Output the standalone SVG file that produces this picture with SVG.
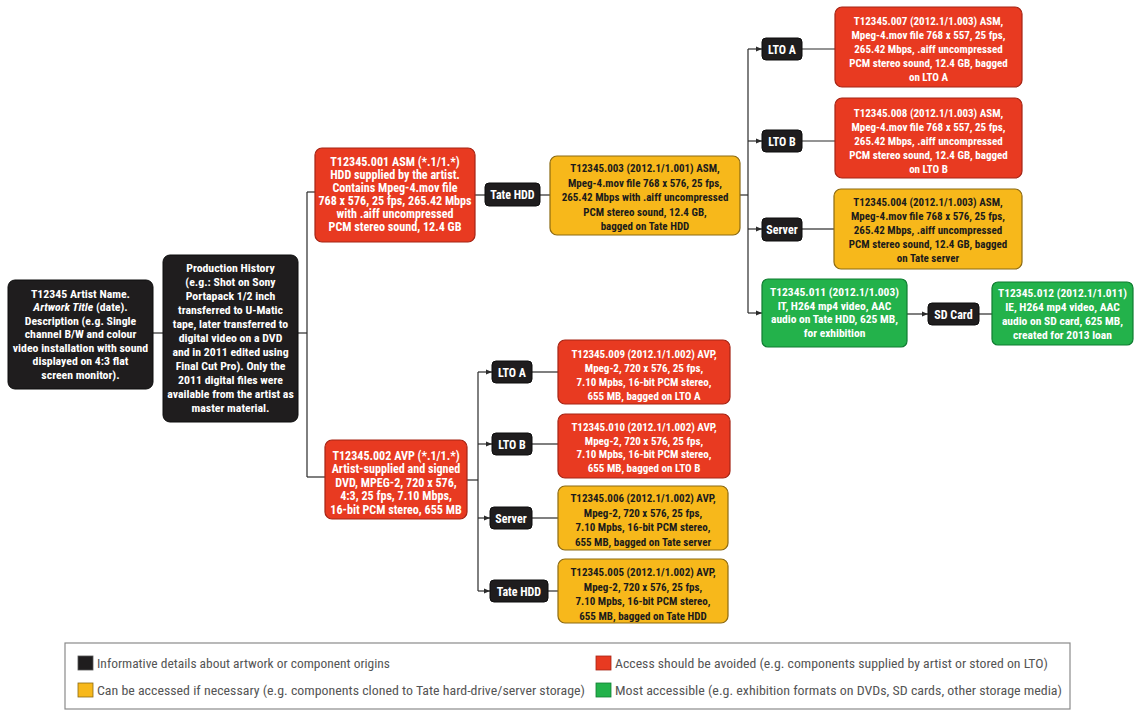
<svg xmlns="http://www.w3.org/2000/svg" width="1138" height="712" viewBox="0 0 1138 712">
<defs>
<marker id="arr" viewBox="0 0 6 6" refX="6" refY="3" markerWidth="6" markerHeight="6" orient="auto" markerUnits="userSpaceOnUse">
<path d="M0,0.5 L6,3 L0,5.5 Z" fill="#2b2b2b"/>
</marker>
<style>
text{font-family:"Liberation Sans Narrow","Roboto Condensed","DejaVu Sans Condensed","Liberation Sans",sans-serif;font-weight:bold;font-size:11px;text-anchor:middle}
.big text{font-size:11.8px}
.xbig text{font-size:12.1px}
.gr text{font-size:11.5px}
.lab text{font-size:12px}
.blk{fill:#1f1d1e;stroke:#0c0c0c;stroke-width:1}
.red{fill:#e83a21;stroke:#a52414;stroke-width:1.2}
.yel{fill:#f7b81b;stroke:#8c6a12;stroke-width:1.2}
.grn{fill:#23b24b;stroke:#0f7d31;stroke-width:1.2}
.w{fill:#ffffff}
.k{fill:#1b1b1b}
.con line{stroke:#2b2b2b;stroke-width:1.2;fill:none}
.lg{font-weight:normal;font-size:12.5px;fill:#555;text-anchor:start;font-family:"Liberation Sans Narrow","Roboto Condensed","Liberation Sans",sans-serif}
</style>
</defs>
<rect width="1138" height="712" fill="#ffffff"/>

<g id="connectors" class="con">
<line x1="153" y1="333" x2="163" y2="333"/>
<line x1="298" y1="333" x2="307" y2="333"/>
<line x1="307" y1="192" x2="307" y2="477"/>
<line x1="307" y1="192" x2="315" y2="192"/>
<line x1="307" y1="477" x2="325" y2="477"/>
<line x1="475" y1="195" x2="485" y2="195"/>
<line x1="540" y1="195" x2="550" y2="195"/>
<line x1="740" y1="195" x2="748" y2="195"/>
<line x1="748" y1="49" x2="748" y2="313"/>
<line x1="748" y1="49" x2="762" y2="49" marker-end="url(#arr)"/>
<line x1="748" y1="141" x2="762" y2="141" marker-end="url(#arr)"/>
<line x1="748" y1="229" x2="762" y2="229" marker-end="url(#arr)"/>
<line x1="748" y1="313" x2="762" y2="313" marker-end="url(#arr)"/>
<line x1="802" y1="49" x2="835" y2="49"/>
<line x1="802" y1="141" x2="835" y2="141"/>
<line x1="802" y1="229" x2="834" y2="229"/>
<line x1="907" y1="314" x2="928" y2="314" marker-end="url(#arr)"/>
<line x1="979" y1="314" x2="992" y2="314"/>
<line x1="467" y1="480" x2="478" y2="480"/>
<line x1="478" y1="372" x2="478" y2="591"/>
<line x1="478" y1="372" x2="492" y2="372" marker-end="url(#arr)"/>
<line x1="478" y1="444" x2="492" y2="444" marker-end="url(#arr)"/>
<line x1="478" y1="518" x2="490" y2="518" marker-end="url(#arr)"/>
<line x1="478" y1="591" x2="490" y2="591" marker-end="url(#arr)"/>
<line x1="532" y1="372" x2="558" y2="372"/>
<line x1="532" y1="444" x2="558" y2="444"/>
<line x1="532" y1="518" x2="558" y2="518"/>
<line x1="548" y1="591" x2="558" y2="591"/>
</g>

<g id="n-artist" class="big">
<rect class="blk" x="8" y="280" width="145" height="109" rx="7"/>
<text class="w" x="80.5" y="297.5">T12345 Artist Name.</text>
<text class="w" x="80.5" y="311"><tspan font-style="italic">Artwork Title</tspan> (date).</text>
<text class="w" x="80.5" y="324.5">Description (e.g. Single</text>
<text class="w" x="80.5" y="338">channel B/W and colour</text>
<text class="w" x="80.5" y="351.5">video installation with sound</text>
<text class="w" x="80.5" y="365">displayed on 4:3 flat</text>
<text class="w" x="80.5" y="378.5">screen monitor).</text>
</g>

<g id="n-history" class="big">
<rect class="blk" x="163" y="255" width="135" height="167" rx="7"/>
<text class="w" x="230.5" y="271.5">Production History</text>
<text class="w" x="230.5" y="285.5">(e.g.: Shot on Sony</text>
<text class="w" x="230.5" y="299.5">Portapack 1/2 inch</text>
<text class="w" x="230.5" y="313.5">transferred to U-Matic</text>
<text class="w" x="230.5" y="327.5">tape, later transferred to</text>
<text class="w" x="230.5" y="341.5">digital video on a DVD</text>
<text class="w" x="230.5" y="355.5">and in 2011 edited using</text>
<text class="w" x="230.5" y="369.5">Final Cut Pro). Only the</text>
<text class="w" x="230.5" y="383.5">2011 digital files were</text>
<text class="w" x="230.5" y="397.5">available from the artist as</text>
<text class="w" x="230.5" y="411.5">master material.</text>
</g>

<g id="n-001" class="xbig">
<rect class="red" x="315" y="148" width="160" height="94" rx="7"/>
<text class="w" x="395" y="165.5">T12345.001 ASM (*.1/1.*)</text>
<text class="w" x="395" y="178.5">HDD supplied by the artist.</text>
<text class="w" x="395" y="191.5">Contains Mpeg-4.mov file</text>
<text class="w" x="395" y="204.5">768 x 576, 25 fps, 265.42 Mbps</text>
<text class="w" x="395" y="217.5">with .aiff uncompressed</text>
<text class="w" x="395" y="230.5">PCM stereo sound, 12.4 GB</text>
</g>

<g id="l-tatehdd1" class="lab">
<rect class="blk" x="485" y="183" width="55" height="23" rx="4"/>
<text class="w" x="512.5" y="199">Tate HDD</text>
</g>

<g id="n-003">
<rect class="yel" x="550" y="156" width="190" height="79" rx="7"/>
<text class="k" x="645" y="172">T12345.003 (2012.1/1.001) ASM,</text>
<text class="k" x="645" y="186.5">Mpeg-4.mov file 768 x 576, 25 fps,</text>
<text class="k" x="645" y="201">265.42 Mbps with .aiff uncompressed</text>
<text class="k" x="645" y="215.5">PCM stereo sound, 12.4 GB,</text>
<text class="k" x="645" y="230">bagged on Tate HDD</text>
</g>

<g id="l-ltoa1" class="lab">
<rect class="blk" x="762" y="38" width="40" height="22" rx="4"/>
<text class="w" x="782" y="53.5">LTO A</text>
</g>
<g id="n-007">
<rect class="red" x="835" y="7" width="187" height="80" rx="7"/>
<text class="w" x="928.5" y="25">T12345.007 (2012.1/1.003) ASM,</text>
<text class="w" x="928.5" y="39">Mpeg-4.mov file 768 x 557, 25 fps,</text>
<text class="w" x="928.5" y="53">265.42 Mbps, .aiff uncompressed</text>
<text class="w" x="928.5" y="67">PCM stereo sound, 12.4 GB, bagged</text>
<text class="w" x="928.5" y="81">on LTO A</text>
</g>

<g id="l-ltob1" class="lab">
<rect class="blk" x="762" y="130" width="40" height="22" rx="4"/>
<text class="w" x="782" y="145.5">LTO B</text>
</g>
<g id="n-008">
<rect class="red" x="835" y="98" width="187" height="80" rx="7"/>
<text class="w" x="928.5" y="117">T12345.008 (2012.1/1.003) ASM,</text>
<text class="w" x="928.5" y="131">Mpeg-4.mov file 768 x 557, 25 fps,</text>
<text class="w" x="928.5" y="145">265.42 Mbps, .aiff uncompressed</text>
<text class="w" x="928.5" y="159">PCM stereo sound, 12.4 GB, bagged</text>
<text class="w" x="928.5" y="173">on LTO B</text>
</g>

<g id="l-server1" class="lab">
<rect class="blk" x="762" y="218" width="40" height="23" rx="4"/>
<text class="w" x="782" y="233.5">Server</text>
</g>
<g id="n-004">
<rect class="yel" x="834" y="189" width="188" height="80" rx="7"/>
<text class="k" x="928" y="206">T12345.004 (2012.1/1.003) ASM,</text>
<text class="k" x="928" y="220">Mpeg-4.mov file 768 x 576, 25 fps,</text>
<text class="k" x="928" y="234">265.42 Mbps, .aiff uncompressed</text>
<text class="k" x="928" y="248">PCM stereo sound, 12.4 GB, bagged</text>
<text class="k" x="928" y="262">on Tate server</text>
</g>

<g id="n-011" class="gr">
<rect class="grn" x="762" y="279" width="145" height="68" rx="6"/>
<text class="w" x="834.5" y="296">T12345.011 (2012.1/1.003)</text>
<text class="w" x="834.5" y="309.5">IT, H264 mp4 video, AAC</text>
<text class="w" x="834.5" y="323">audio on Tate HDD, 625 MB,</text>
<text class="w" x="834.5" y="337">for exhibition</text>
</g>

<g id="l-sdcard" class="lab">
<rect class="blk" x="928" y="303" width="51" height="22" rx="4"/>
<text class="w" x="953.5" y="318.5">SD Card</text>
</g>

<g id="n-012" class="gr">
<rect class="grn" x="992" y="282" width="141" height="63" rx="6"/>
<text class="w" x="1062.5" y="297">T12345.012 (2012.1/1.011)</text>
<text class="w" x="1062.5" y="311">IE, H264 mp4 video, AAC</text>
<text class="w" x="1062.5" y="325">audio on SD card, 625 MB,</text>
<text class="w" x="1062.5" y="339">created for 2013 loan</text>
</g>

<g id="n-002" class="xbig">
<rect class="red" x="325" y="440" width="142" height="79" rx="7"/>
<text class="w" x="396" y="459.5">T12345.002 AVP (*.1/1.*)</text>
<text class="w" x="396" y="473">Artist-supplied and signed</text>
<text class="w" x="396" y="486.5">DVD, MPEG-2, 720 x 576,</text>
<text class="w" x="396" y="500">4:3, 25 fps, 7.10 Mbps,</text>
<text class="w" x="396" y="513.5">16-bit PCM stereo, 655 MB</text>
</g>

<g id="l-ltoa2" class="lab">
<rect class="blk" x="492" y="361" width="40" height="22" rx="4"/>
<text class="w" x="512" y="376.5">LTO A</text>
</g>
<g id="n-009">
<rect class="red" x="558" y="340" width="172" height="64" rx="7"/>
<text class="w" x="644" y="358">T12345.009 (2012.1/1.002) AVP,</text>
<text class="w" x="644" y="372">Mpeg-2, 720 x 576, 25 fps,</text>
<text class="w" x="644" y="386">7.10 Mpbs, 16-bit PCM stereo,</text>
<text class="w" x="644" y="400">655 MB, bagged on LTO A</text>
</g>

<g id="l-ltob2" class="lab">
<rect class="blk" x="492" y="433" width="40" height="22" rx="4"/>
<text class="w" x="512" y="448.5">LTO B</text>
</g>
<g id="n-010">
<rect class="red" x="558" y="414" width="172" height="64" rx="7"/>
<text class="w" x="644" y="431">T12345.010 (2012.1/1.002) AVP,</text>
<text class="w" x="644" y="444.5">Mpeg-2, 720 x 576, 25 fps,</text>
<text class="w" x="644" y="458">7.10 Mpbs, 16-bit PCM stereo,</text>
<text class="w" x="644" y="471.5">655 MB, bagged on LTO B</text>
</g>

<g id="l-server2" class="lab">
<rect class="blk" x="490" y="507" width="42" height="22" rx="4"/>
<text class="w" x="511" y="522.5">Server</text>
</g>
<g id="n-006">
<rect class="yel" x="558" y="486" width="170" height="64" rx="7"/>
<text class="k" x="643" y="502">T12345.006 (2012.1/1.002) AVP,</text>
<text class="k" x="643" y="516.5">Mpeg-2, 720 x 576, 25 fps,</text>
<text class="k" x="643" y="531">7.10 Mpbs, 16-bit PCM stereo,</text>
<text class="k" x="643" y="545.5">655 MB, bagged on Tate server</text>
</g>

<g id="l-tatehdd2" class="lab">
<rect class="blk" x="490" y="580" width="58" height="22" rx="4"/>
<text class="w" x="519" y="595.5">Tate HDD</text>
</g>
<g id="n-005">
<rect class="yel" x="558" y="559" width="170" height="64" rx="7"/>
<text class="k" x="643" y="576">T12345.005 (2012.1/1.002) AVP,</text>
<text class="k" x="643" y="590.5">Mpeg-2, 720 x 576, 25 fps,</text>
<text class="k" x="643" y="605">7.10 Mpbs, 16-bit PCM stereo,</text>
<text class="k" x="643" y="619.5">655 MB, bagged on Tate HDD</text>
</g>

<g id="legend">
<rect x="65" y="643" width="1005" height="66" fill="#ffffff" stroke="#8a8a8a" stroke-width="1.2"/>
<rect x="78" y="656" width="15" height="14" fill="#1f1d1e" stroke="#555" stroke-width="0.8"/>
<text class="lg" x="97" y="668" textLength="293" lengthAdjust="spacingAndGlyphs">Informative details about artwork or component origins</text>
<rect x="78" y="683" width="15" height="14" fill="#f7b81b" stroke="#8c6a12" stroke-width="0.8"/>
<text class="lg" x="97" y="695" textLength="488" lengthAdjust="spacingAndGlyphs">Can be accessed if necessary (e.g. components cloned to Tate hard-drive/server storage)</text>
<rect x="596" y="656" width="15" height="14" fill="#e83a21" stroke="#a52414" stroke-width="0.8"/>
<text class="lg" x="615" y="668" textLength="433" lengthAdjust="spacingAndGlyphs">Access should be avoided (e.g. components supplied by artist or stored on LTO)</text>
<rect x="596" y="683" width="15" height="14" fill="#23b24b" stroke="#0f7d31" stroke-width="0.8"/>
<text class="lg" x="615" y="695" textLength="447" lengthAdjust="spacingAndGlyphs">Most accessible (e.g. exhibition formats on DVDs, SD cards, other storage media)</text>
</g>
</svg>
